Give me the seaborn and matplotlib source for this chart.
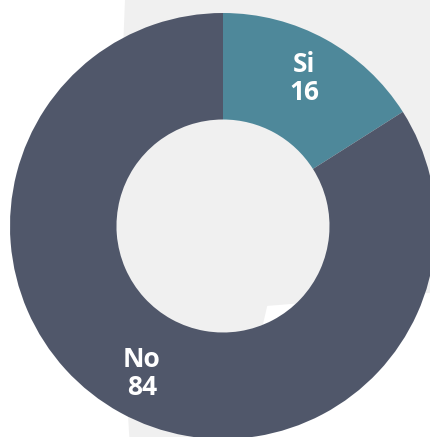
import numpy as np
import seaborn as sns
import matplotlib.pyplot as plt
from matplotlib.patches import Polygon

# Datos
categorias = ["Si", "No"]
valores = [16, 84]
colores = ["#4e889a", "#50576a"]

sns.set_theme(style="white")
plt.rcParams['font.family'] = ['Open Sans', 'DejaVu Sans']

fig = plt.figure(figsize=(4.31, 4.37), dpi=100, facecolor="white")

# Fondo: zona gris claro (decorativa)
fondo = Polygon([(0.29, 1.0), (1.0, 1.0), (1.0, 0.33), (0.62, 0.30), (0.55, 0.0), (0.30, 0.0), (0.27, 0.5)],
                closed=True, transform=fig.transFigure, facecolor="#f0f0f0", edgecolor="none", zorder=-5)
fig.patches.append(fondo)

# Ejes ubicados para que la dona quede como en la referencia
ax = fig.add_axes([10 / 431, -2 / 437, 426 / 431, 426 / 437])
ax.set_facecolor("none")
ax.set_zorder(1)

wedges, _ = ax.pie(valores, colors=colores, startangle=90, counterclock=False,
                   radius=1, wedgeprops=dict(width=0.5, edgecolor="none"))
for w in wedges:
    w.set_clip_on(False)

# Etiquetas en el centro de cada segmento
for w, cat, val in zip(wedges, categorias, valores):
    ang = np.deg2rad((w.theta1 + w.theta2) / 2)
    r = 0.79
    ax.text(r * np.cos(ang), r * np.sin(ang), f"{cat}\n{val}", ha="center", va="center",
            color="white", fontsize=19, fontweight="bold", linespacing=1.05)

ax.set_xlim(-1, 1)
ax.set_ylim(-1, 1)
ax.set_aspect("equal")
ax.axis("off")

plt.savefig("out.png", dpi=100, facecolor=fig.get_facecolor())
plt.close()
